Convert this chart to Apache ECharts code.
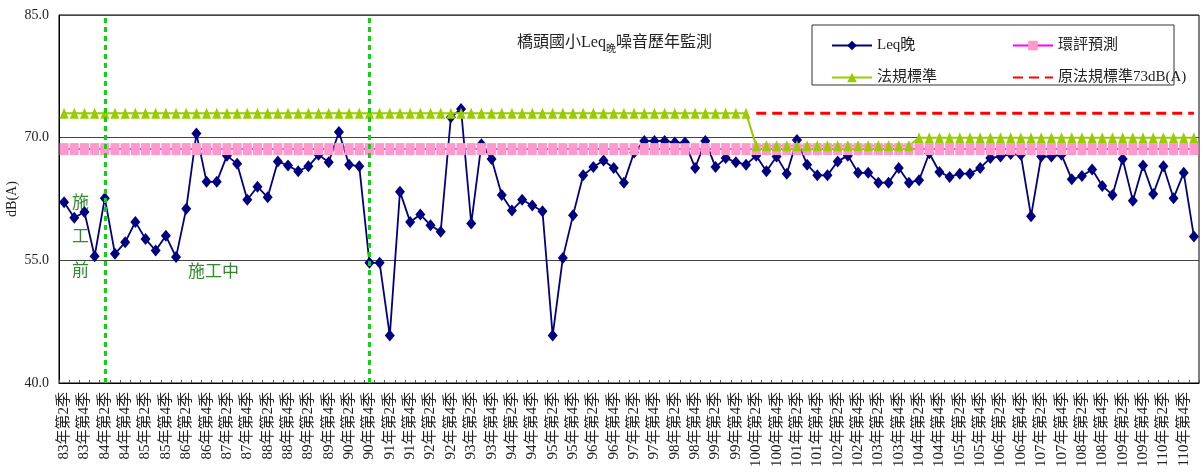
<!DOCTYPE html>
<html>
<head>
<meta charset="utf-8">
<script src="https://cdn.jsdelivr.net/npm/echarts@6/dist/echarts.min.js"></script>
<style>
html,body{margin:0;padding:0;background:#fff;}
#chart{width:1203px;height:476px;}
</style>
</head>
<body>
<div id="chart"></div>
<script>
// ---- data ----
const startYear = 83, startQuarter = 2, periodCount = 112;
const categories = [];
(function(){ let y = startYear, q = startQuarter; for (let i = 0; i < periodCount; i++) { categories.push(y + '年第' + q + '季'); q++; if (q > 4) { q = 1; y++; } } })();

const yTicks = [40, 55, 70, 85];

const leqEvening = [
  62.1,60.2,60.9,55.5,62.6,55.8,57.2,59.7,57.6,56.2,58.0,55.4,61.3,70.5,64.6,64.6,
  67.8,66.8,62.4,64.0,62.7,67.1,66.6,65.9,66.5,67.9,67.0,70.7,66.7,66.5,54.7,54.7,
  45.8,63.4,59.7,60.6,59.3,58.5,72.5,73.5,59.5,69.2,67.4,63.0,61.1,62.4,61.7,61.0,
  45.8,55.3,60.5,65.4,66.4,67.2,66.3,64.5,68.2,69.6,69.6,69.6,69.4,69.4,66.3,69.6,
  66.4,67.5,67.0,66.7,67.8,65.9,67.7,65.6,69.7,66.7,65.4,65.4,67.1,67.8,65.7,65.7,
  64.5,64.5,66.3,64.5,64.8,68.1,65.8,65.2,65.6,65.6,66.3,67.5,67.7,68.0,67.9,60.4,
  67.7,67.7,67.9,64.9,65.3,66.1,64.1,63.0,67.4,62.3,66.6,63.1,66.5,62.6,65.7,57.9
];

const envForecast = [
  68.6,68.6,68.6,68.6,68.6,68.6,68.6,68.6,68.6,68.6,68.6,68.6,68.6,68.6,68.6,68.6,
  68.6,68.6,68.6,68.6,68.6,68.6,68.6,68.6,68.6,68.6,68.6,68.6,68.6,68.6,68.6,68.6,
  68.6,68.6,68.6,68.6,68.6,68.6,68.6,68.6,68.6,68.6,68.6,68.6,68.6,68.6,68.6,68.6,
  68.6,68.6,68.6,68.6,68.6,68.6,68.6,68.6,68.6,68.6,68.6,68.6,68.6,68.6,68.6,68.6,
  68.6,68.6,68.6,68.6,68.6,68.6,68.6,68.6,68.6,68.6,68.6,68.6,68.6,68.6,68.6,68.6,
  68.6,68.6,68.6,68.6,68.6,68.6,68.6,68.6,68.6,68.6,68.6,68.6,68.6,68.6,68.6,68.6,
  68.6,68.6,68.6,68.6,68.6,68.6,68.6,68.6,68.6,68.6,68.6,68.6,68.6,68.6,68.6,68.6
];

const legalStandard = [
  73,73,73,73,73,73,73,73,73,73,73,73,73,73,73,73,
  73,73,73,73,73,73,73,73,73,73,73,73,73,73,73,73,
  73,73,73,73,73,73,73,73,73,73,73,73,73,73,73,73,
  73,73,73,73,73,73,73,73,73,73,73,73,73,73,73,73,
  73,73,73,73,69,69,69,69,69,69,69,69,69,69,69,69,
  69,69,69,69,70,70,70,70,70,70,70,70,70,70,70,70,
  70,70,70,70,70,70,70,70,70,70,70,70,70,70,70,70
];

const oldStandard = [
  null,null,null,null,null,null,null,null,null,null,null,null,null,null,null,null,
  null,null,null,null,null,null,null,null,null,null,null,null,null,null,null,null,
  null,null,null,null,null,null,null,null,null,null,null,null,null,null,null,null,
  null,null,null,null,null,null,null,null,null,null,null,null,null,null,null,null,
  null,null,null,null,73,73,73,73,73,73,73,73,73,73,73,73,
  73,73,73,73,73,73,73,73,73,73,73,73,73,73,73,73,
  73,73,73,73,73,73,73,73,73,73,73,73,73,73,73,73
];

const constructionMarks = ['84年第2季', '90年第4季'];
const seriesNames = ['Leq晚', '環評預測', '法規標準', '原法規標準73dB(A)'];

// ---- chart ----
const serif = "'Liberation Serif','Noto Sans CJK TC',serif";
const chart = echarts.init(document.getElementById('chart'));
chart.setOption({
  animation: false,
  backgroundColor: '#fff',
  title: {
    text: '橋頭國小Leq{sub|晚}噪音歷年監測',
    left: 512, top: 27,
    textStyle: {
      fontFamily: serif, fontSize: 16, fontWeight: 'normal', color: '#222', lineHeight: 22,
      rich: { sub: { fontFamily: serif, fontSize: 10, color: '#222', verticalAlign: 'bottom', lineHeight: 22, padding: [8, 0, 0, 0] } }
    }
  },
  legend: [
    {
      data: [seriesNames[0], seriesNames[2]],
      orient: 'vertical', left: 826, top: 33, itemWidth: 40, itemHeight: 12, itemGap: 17,
      textStyle: { fontFamily: serif, fontSize: 15, color: '#222' }
    },
    {
      data: [seriesNames[1], { name: seriesNames[3], itemStyle: { opacity: 0 } }],
      orient: 'vertical', left: 1007, top: 33, itemWidth: 40, itemHeight: 12, itemGap: 17,
      textStyle: { fontFamily: serif, fontSize: 15, color: '#222' }
    }
  ],
  graphic: [
    { type: 'rect', z: 0, shape: { x: 812, y: 25, width: 362, height: 60 }, style: { fill: 'transparent', stroke: '#333', lineWidth: 1 } },
    { type: 'text', left: 72, top: 185, style: { text: '施\n工\n前', font: "17px 'Noto Sans CJK TC'", fill: '#2e8b2e', lineHeight: 34 } },
    { type: 'text', left: 188, top: 262, style: { text: '施工中', font: "17px 'Noto Sans CJK TC'", fill: '#2e8b2e' } }
  ],
  grid: { left: 59, right: 4, top: 15, bottom: 93, show: true, borderColor: '#000', borderWidth: 1, containLabel: false, outerBoundsMode: 'none' },
  xAxis: {
    type: 'category', data: categories, boundaryGap: true,
    axisLine: { lineStyle: { color: '#000', width: 1 } },
    axisTick: { show: true, inside: true, length: 3, interval: 0, lineStyle: { color: '#555' } },
    axisLabel: { interval: 1, rotate: 90, margin: 9, fontFamily: serif, fontSize: 15, color: '#222' },
    splitLine: { show: false }
  },
  yAxis: {
    type: 'value', min: yTicks[0], max: yTicks[yTicks.length - 1], interval: 15,
    name: 'dB(A)', nameLocation: 'middle', nameGap: 40, nameRotate: 90, nameMoveOverlap: false,
    nameTextStyle: { fontFamily: serif, fontSize: 14, color: '#222' },
    axisLine: { show: true, lineStyle: { color: '#000' } },
    axisTick: { show: false },
    axisLabel: { margin: 10, fontFamily: serif, fontSize: 14, color: '#222', formatter: v => v.toFixed(1) },
    splitLine: { show: true, lineStyle: { color: '#444', width: 1 } }
  },
  series: [
    {
      name: seriesNames[0], type: 'line', data: leqEvening,
      symbol: 'diamond', symbolSize: [10, 12], showAllSymbol: true,
      lineStyle: { color: '#000080', width: 1.8 },
      itemStyle: { color: '#000080' }
    },
    {
      name: seriesNames[1], type: 'line', data: envForecast,
      symbol: 'rect', symbolSize: [9, 12], showAllSymbol: true,
      lineStyle: { color: '#ff00ff', width: 1.5 },
      itemStyle: { color: '#ff99cc' }
    },
    {
      name: seriesNames[2], type: 'line', data: legalStandard,
      symbol: 'triangle', symbolSize: [9, 11], showAllSymbol: true,
      lineStyle: { color: '#99cc00', width: 2 },
      itemStyle: { color: '#99cc00' }
    },
    {
      name: seriesNames[3], type: 'line', data: oldStandard,
      symbol: 'none', showSymbol: false,
      lineStyle: { color: '#ff0000', width: 3, type: [10, 6] },
      itemStyle: { color: '#ff0000' },
      markLine: {
        silent: true, symbol: 'none', label: { show: false },
        lineStyle: { color: '#00dd00', width: 3, type: [5, 4] },
        data: constructionMarks.map(c => ({ xAxis: c }))
      }
    }
  ]
});
</script>
</body>
</html>
